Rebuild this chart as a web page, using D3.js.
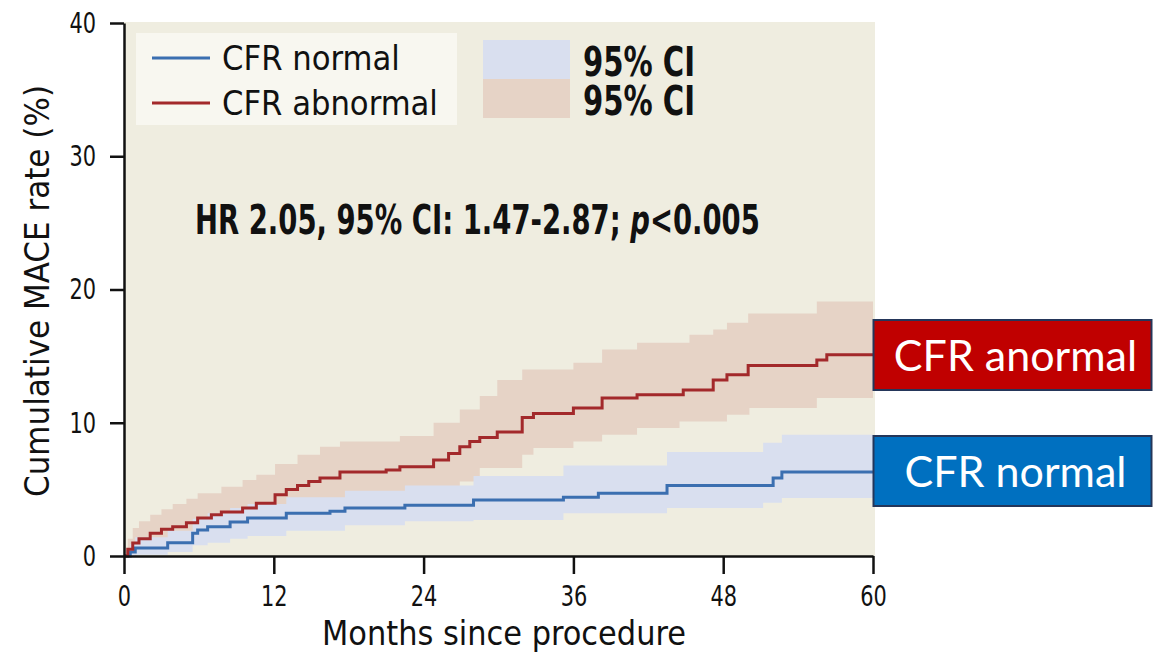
<!DOCTYPE html>
<html>
<head>
<meta charset="utf-8">
<script src="https://cdn.jsdelivr.net/npm/d3@7"></script>
<style>
  html, body { margin: 0; padding: 0; background: #fff; }
  svg { display: block; }
  .cond { font-family: "Liberation Sans Narrow", "DejaVu Sans Condensed", "Roboto", sans-serif; font-stretch: condensed; }
</style>
</head>
<body>
<div id="chart"></div>
<script>
// データ ----------------------------------------------------------------------
const xTicks = [0, 12, 24, 36, 48, 60];
const yTicks = [0, 10, 20, 30, 40];

// CFR abnormal (months, cumulative %)
const redMonths = [0, 0.3, 0.7, 1.2, 2.1, 3.0, 3.9, 5.0, 5.9, 7.0, 7.8, 9.5, 10.6, 12.1, 13.0, 13.9, 14.8, 15.7, 17.3, 21.0, 22.1, 24.8, 26.0, 26.9, 27.7, 28.5, 29.9, 31.9, 32.8, 36.0, 38.3, 41.1, 44.8, 47.2, 48.3, 50.0, 55.5, 56.3];
const redValues = [0, 0.5, 0.97, 1.3, 1.7, 2.0, 2.2, 2.5, 2.85, 3.1, 3.3, 3.6, 3.95, 4.6, 5.0, 5.3, 5.6, 5.85, 6.3, 6.45, 6.7, 7.2, 7.7, 8.2, 8.6, 8.9, 9.3, 10.4, 10.7, 11.1, 11.85, 12.1, 12.45, 13.2, 13.6, 14.3, 14.7, 15.1];
const redUpperMonths = [0, 0.3, 0.7, 1.2, 2.1, 3.0, 3.9, 5.0, 5.9, 7.8, 9.5, 10.6, 12.1, 13.9, 15.7, 17.3, 22.1, 24.8, 26.9, 28.5, 29.9, 31.9, 36.0, 38.3, 41.1, 45.3, 47.2, 48.3, 50.0, 55.5];
const redUpperValues = [0, 1.3, 2.1, 2.6, 3.1, 3.5, 3.9, 4.3, 4.7, 5.2, 5.7, 6.1, 6.9, 7.6, 8.2, 8.6, 9.0, 10.0, 11.0, 12.0, 13.2, 14.0, 14.5, 15.5, 16.0, 16.6, 17.0, 17.5, 18.2, 19.1];
const redLowerMonths = [0, 1.0, 2.1, 3.9, 5.9, 7.8, 10.6, 12.1, 13.9, 15.7, 17.3, 22.1, 24.8, 26.9, 28.5, 31.9, 32.8, 36.0, 38.3, 41.1, 44.5, 48.3, 50.1, 55.5];
const redLowerValues = [0, 0.3, 0.6, 0.9, 1.3, 1.6, 2.1, 2.6, 3.1, 3.5, 3.9, 4.3, 4.9, 5.6, 6.6, 7.6, 8.1, 8.6, 9.1, 9.6, 10.1, 10.6, 11.1, 11.85];

// CFR normal
const blueMonths = [0, 0.5, 0.9, 3.5, 5.5, 5.9, 6.7, 8.5, 9.9, 13.0, 16.5, 17.7, 22.5, 28.0, 35.2, 38.0, 43.5, 52.0, 52.7];
const blueValues = [0, 0.3, 0.6, 1.0, 1.7, 1.95, 2.2, 2.55, 2.85, 3.2, 3.35, 3.6, 3.8, 4.2, 4.4, 4.7, 5.3, 5.85, 6.3];
const blueUpperMonths = [0, 0.5, 0.9, 3.5, 5.5, 6.7, 8.5, 9.9, 13.0, 17.7, 22.5, 28.0, 35.2, 43.5, 51.2, 52.7];
const blueUpperValues = [0, 0.9, 1.4, 1.9, 2.8, 3.2, 3.6, 3.9, 4.4, 4.9, 5.3, 6.0, 6.8, 7.8, 8.5, 9.1];
const blueLowerMonths = [0, 0.9, 3.5, 5.5, 6.7, 8.5, 9.9, 13.0, 17.7, 22.5, 28.0, 35.2, 43.5, 51.2, 52.7];
const blueLowerValues = [0, 0.1, 0.3, 0.8, 1.0, 1.3, 1.5, 1.9, 2.3, 2.6, 2.7, 3.2, 3.6, 4.0, 4.35];

const legendLabels = ['CFR normal', 'CFR abnormal'];
const ciLabel = '95% CI';
const sideLabels = ['CFR anormal', 'CFR normal'];

// SVG領域 --------------------------------------------------------------------
const width = 1153;
const height = 656;
const margin = { top: 23, bottom: 100, left: 124, right: 280 };
const svg = d3.select('#chart').append('svg')
  .attr('width', width)
  .attr('height', height);

const xScale = d3.scaleLinear().domain([0, 60]).range([margin.left, width - margin.right]);
const yScale = d3.scaleLinear().domain([0, 40]).range([height - margin.bottom, margin.top]);

// 文字幅を合わせる(横方向だけ縮める/伸ばす)
function fitText(sel, target, rotate) {
  const x = +sel.attr('x') || 0;
  const y = +sel.attr('y') || 0;
  const w = sel.node().getBBox().width;
  const s = target / w;
  sel.attr('x', 0).attr('y', 0)
    .attr('transform', 'translate(' + x + ',' + y + ')' + (rotate ? ' rotate(' + rotate + ')' : '') + ' scale(' + s + ',1)');
}

// パネル背景
svg.append('rect')
  .attr('x', xScale(0))
  .attr('y', yScale(40) - 1)
  .attr('width', xScale(60) - xScale(0) + 2)
  .attr('height', yScale(0) - yScale(40) + 1)
  .attr('fill', '#efede0');

// 関数 ----------------------------------------------------------------------
const toPoints = (ms, vs) => {
  const pts = ms.map((m, i) => ({ m: m, v: vs[i] }));
  pts.push({ m: 60, v: vs[vs.length - 1] });
  return pts;
};
const bandPoints = (upM, upV, loM, loV) => {
  // 上下の時刻を合わせる
  const times = Array.from(new Set(upM.concat(loM))).sort((a, b) => a - b);
  const look = (ms, vs, t) => {
    let v = 0;
    for (let i = 0; i < ms.length; i++) { if (ms[i] <= t) v = vs[i]; }
    return v;
  };
  const pts = times.map(t => ({ m: t, hi: look(upM, upV, t), lo: look(loM, loV, t) }));
  pts.push({ m: 60, hi: upV[upV.length - 1], lo: loV[loV.length - 1] });
  return pts;
};
const area = d3.area()
  .curve(d3.curveStepAfter)
  .x(d => xScale(d.m))
  .y0(d => yScale(d.lo))
  .y1(d => yScale(d.hi));
const line = d3.line()
  .curve(d3.curveStepAfter)
  .x(d => xScale(d.m))
  .y(d => yScale(d.v));

// 信頼区間
svg.append('path')
  .datum(bandPoints(redUpperMonths, redUpperValues, redLowerMonths, redLowerValues))
  .attr('fill', '#e6d3c6')
  .attr('d', area);
svg.append('path')
  .datum(bandPoints(blueUpperMonths, blueUpperValues, blueLowerMonths, blueLowerValues))
  .attr('fill', '#d9dfef')
  .attr('d', area);

// 線
svg.append('path')
  .datum(toPoints(blueMonths, blueValues))
  .attr('fill', 'none')
  .attr('stroke', '#3b6fb0')
  .attr('stroke-width', 3)
  .attr('d', line);
svg.append('path')
  .datum(toPoints(redMonths, redValues))
  .attr('fill', 'none')
  .attr('stroke', '#a3292b')
  .attr('stroke-width', 3)
  .attr('d', line);

// 軸 ------------------------------------------------------------------------
const xAxis = svg.append('g')
  .attr('transform', 'translate(0,' + yScale(0) + ')')
  .call(d3.axisBottom(xScale).tickValues(xTicks).tickSize(18).tickSizeOuter(0));
xAxis.selectAll('text')
  .attr('class', 'cond')
  .attr('y', 29)
  .attr('font-size', '29px')
  .attr('transform', 'scale(0.8,1)')
  .attr('fill', '#111');
const yAxis = svg.append('g')
  .attr('transform', 'translate(' + xScale(0) + ',0)')
  .call(d3.axisLeft(yScale).tickValues(yTicks).tickSize(14).tickSizeOuter(0));
yAxis.selectAll('text')
  .attr('class', 'cond')
  .attr('x', -28 / 0.8)
  .attr('font-size', '29px')
  .attr('transform', 'scale(0.8,1)')
  .attr('fill', '#111');
svg.selectAll('.domain, .tick line')
  .attr('stroke', '#111')
  .attr('stroke-width', 2.5);

// 軸ラベル
const xLab = svg.append('text')
  .attr('class', 'cond')
  .attr('x', 504)
  .attr('y', 645)
  .attr('text-anchor', 'middle')
  .attr('font-size', '33px')
  .attr('fill', '#111')
  .text('Months since procedure');
fitText(xLab, 364);
const yLab = svg.append('text')
  .attr('class', 'cond')
  .attr('x', 49)
  .attr('y', 291)
  .attr('text-anchor', 'middle')
  .attr('font-size', '33px')
  .attr('fill', '#111')
  .text('Cumulative MACE rate (%)');
fitText(yLab, 412, -90);

// 凡例 ----------------------------------------------------------------------
svg.append('rect')
  .attr('x', 136).attr('y', 33)
  .attr('width', 321).attr('height', 92)
  .attr('fill', '#f8f7f0');
const legendColors = ['#3b6fb0', '#a3292b'];
const legendWidths = [178, 216];
const legendG = svg.append('g').selectAll('g')
  .data(legendLabels)
  .enter().append('g')
  .attr('transform', (d, i) => 'translate(152,' + (58 + 45 * i) + ')');
legendG.append('line')
  .attr('x1', 0).attr('x2', 58)
  .attr('stroke', (d, i) => legendColors[i])
  .attr('stroke-width', 3);
legendG.append('text')
  .attr('class', 'cond')
  .attr('x', 70).attr('y', 12)
  .attr('font-size', '33px')
  .attr('fill', '#111')
  .text(d => d)
  .each(function(d, i) { fitText(d3.select(this), legendWidths[i]); });

const ciColors = ['#d9dfef', '#e6d3c6'];
const ciG = svg.append('g').selectAll('g')
  .data(ciColors)
  .enter().append('g')
  .attr('transform', (d, i) => 'translate(483,' + (40 + 39 * i) + ')');
ciG.append('rect')
  .attr('width', 87).attr('height', 39)
  .attr('fill', d => d);
ciG.append('text')
  .attr('class', 'cond')
  .attr('x', 100).attr('y', 36)
  .attr('font-size', '40px')
  .attr('font-weight', 'bold')
  .attr('fill', '#111')
  .text(ciLabel)
  .each(function() { fitText(d3.select(this), 112); });

// HRテキスト
const hr = svg.append('text')
  .attr('class', 'cond')
  .attr('x', 195).attr('y', 234)
  .attr('font-size', '40px')
  .attr('font-weight', 'bold')
  .attr('fill', '#111');
hr.append('tspan').text('HR 2.05, 95% CI: 1.47-2.87; ');
hr.append('tspan').attr('font-style', 'italic').text('p');
hr.append('tspan').text('<0.005');
fitText(hr, 565);

// 右側ラベル ------------------------------------------------------------------
const sideColors = ['#c00000', '#0070c0'];
const sideG = svg.append('g').selectAll('g')
  .data(sideLabels)
  .enter().append('g')
  .attr('transform', (d, i) => 'translate(873.5,' + (320 + 116 * i) + ')');
sideG.append('rect')
  .attr('width', 278).attr('height', 70)
  .attr('fill', (d, i) => sideColors[i])
  .attr('stroke', '#24365a')
  .attr('stroke-width', 2);
sideG.append('text')
  .attr('x', 142).attr('y', 51)
  .attr('text-anchor', 'middle')
  .attr('font-family', 'Lato, "Open Sans", sans-serif')
  .attr('font-size', '43px')
  .attr('fill', '#fff')
  .text(d => d);
</script>
</body>
</html>
